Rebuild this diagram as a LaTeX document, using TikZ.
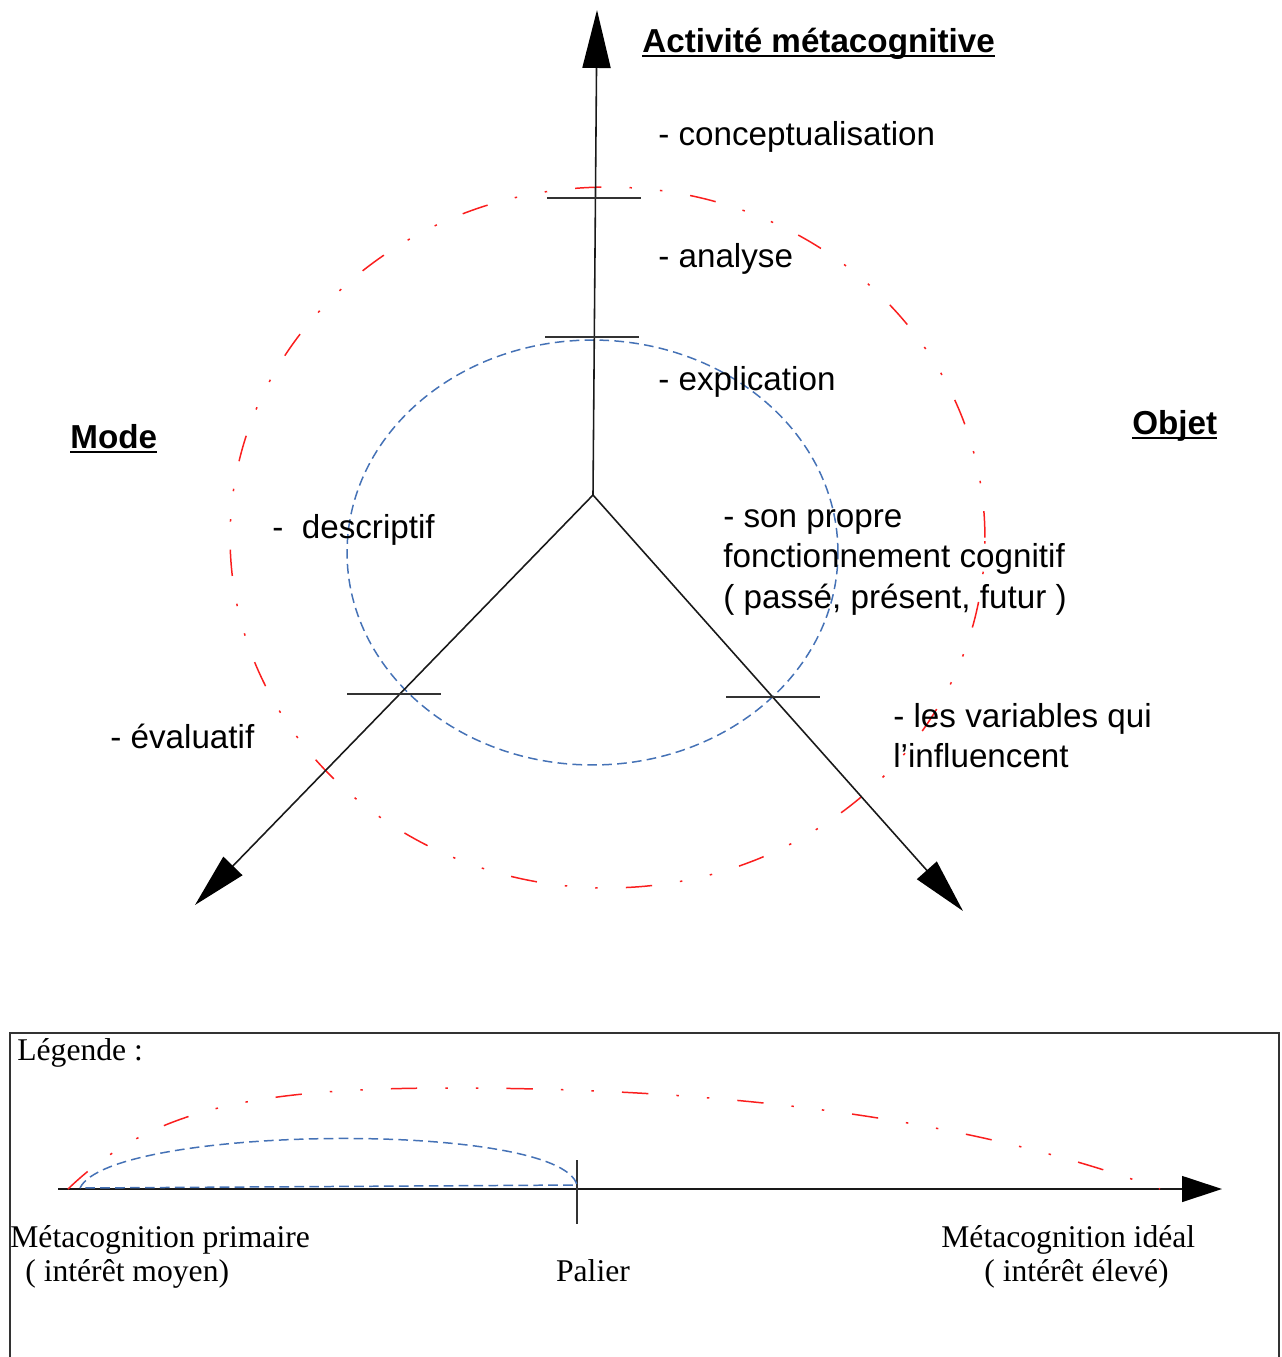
\documentclass[tikz,border=0pt]{standalone}
\usepackage{fontspec}
\setmainfont{Liberation Sans}
\newfontfamily\legfont{Liberation Serif}
\usetikzlibrary{arrows.meta}
\definecolor{redc}{RGB}{250,30,30}
\definecolor{bluec}{RGB}{69,114,182}
\newcommand\myul[1]{\setbox0=\hbox{#1}\rlap{\rule[-2.8pt]{\wd0}{1.1pt}}\box0}
\begin{document}
\begin{tikzpicture}[x=0.02cm,y=-0.02cm,
  axis/.style={draw=black!90, line width=0.9pt},
  tickmark/.style={draw=black!80, line width=1.1pt},
  framebox/.style={draw=black!80, line width=1.1pt},
  lbl/.style={anchor=base west, inner sep=0pt, font=\fontsize{18.9pt}{23pt}\selectfont},
  ttl/.style={anchor=base west, inner sep=0pt, font=\fontsize{18.9pt}{23pt}\selectfont\bfseries},
  leg/.style={inner sep=0pt, font=\legfont\fontsize{18pt}{22pt}\selectfont},
  redline/.style={draw=redc, line width=0.85pt, dash pattern=on 15pt off 16pt on 1.4pt off 16pt on 1.4pt off 16pt},
  blueline/.style={draw=bluec, line width=0.85pt, dash pattern=on 5.5pt off 3pt},
  uptip/.style={-{Triangle[length=33pt,width=16pt,color=black]}},
  downtip/.style={-{Triangle[length=31pt,width=15pt,color=black]}},
  legtip/.style={-{Triangle[length=22.7pt,width=14.7pt,color=black]}}
]
\useasboundingbox (0,0) rectangle (1282,1357);

% ellipses
\draw[redline] (607.5,537.5) ellipse [x radius=7.55cm, y radius=7.01cm];
\draw[blueline] (592.5,552.5) ellipse [x radius=4.91cm, y radius=4.25cm];

% axes
\coordinate (c) at (593,495);
\coordinate (up) at (597,10);
\coordinate (dl) at (195,905);
\coordinate (dr) at (963,911);
\draw[axis, uptip] (c) -- (up);
\draw[axis, downtip] (c) -- (dl);
\draw[axis, downtip] (c) -- (dr);

% ticks
\coordinate (t1a) at (547,198); \coordinate (t1b) at (641,198);
\coordinate (t2a) at (545,337); \coordinate (t2b) at (639,337);
\coordinate (t3a) at (347,694); \coordinate (t3b) at (441,694);
\coordinate (t4a) at (726,697); \coordinate (t4b) at (820,697);
\draw[tickmark] (t1a) -- (t1b);
\draw[tickmark] (t2a) -- (t2b);
\draw[tickmark] (t3a) -- (t3b);
\draw[tickmark] (t4a) -- (t4b);

% labels
\node[ttl] (titleA) at (642,52) {\myul{Activité métacognitive}};
\node[lbl] (a1) at (658,145) {- conceptualisation};
\node[lbl] (a2) at (658,267) {- analyse};
\node[lbl] (a3) at (658,390) {- explication};
\node[ttl] (titleM) at (70,448) {\myul{Mode}};
\node[ttl] (titleO) at (1132,434) {\myul{Objet}};
\node[lbl] (m1) at (272,538) {-\ \ descriptif};
\node[lbl] (m2) at (110,748) {- évaluatif};
\node[lbl] (o1) at (723,527) {- son propre};
\node[lbl] (o2) at (723,567) {fonctionnement cognitif};
\node[lbl] (o3) at (723,608) {( passé, présent, futur )};
\node[lbl] (o4) at (893,727) {- les variables qui};
\node[lbl] (o5) at (893,767) {l’influencent};

% legend
\coordinate (f1) at (10,1357); \coordinate (f2) at (10,1033);
\coordinate (f3) at (1279,1033); \coordinate (f4) at (1279,1357);
\draw[framebox] (f1) -- (f2) -- (f3) -- (f4);
\node[leg, anchor=base west] (lg) at (17,1060) {Légende :};
\coordinate (ls) at (58,1189); \coordinate (le) at (1222,1189);
\draw[axis, legtip] (ls) -- (le);
\coordinate (p1) at (577,1160); \coordinate (p2) at (577,1224);
\draw[tickmark] (p1) -- (p2);
\draw[blueline] (80,1188) .. controls (110,1125) and (560,1120) .. (577,1185) -- cycle;
\draw[redline] (68,1189) .. controls (150,1110) and (250,1088) .. (450,1088)
  .. controls (700,1088) and (950,1112) .. (1160,1189);
\node[leg, anchor=base west] (l1) at (10,1247) {Métacognition primaire};
\node[leg, anchor=base west] (l2) at (25,1281) {( intérêt moyen)};
\node[leg, anchor=base] (l3) at (593,1281) {Palier};
\node[leg, anchor=base west] (l4) at (941,1247) {Métacognition idéal};
\node[leg, anchor=base west] (l5) at (984,1281) {( intérêt élevé)};
\end{tikzpicture}
\end{document}
